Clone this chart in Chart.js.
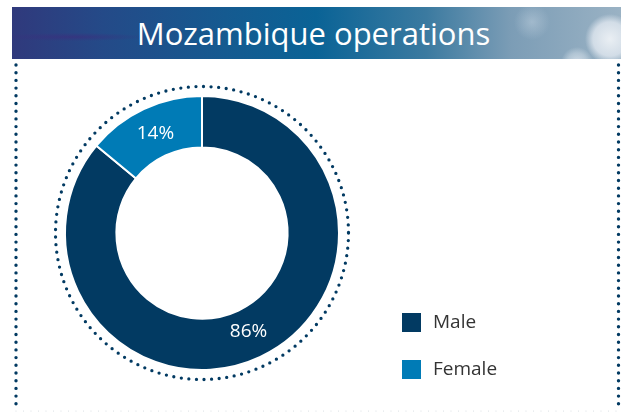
<!DOCTYPE html>
<html>
<head>
<meta charset="utf-8">
<script src="https://cdn.jsdelivr.net/npm/chart.js@4/dist/chart.umd.min.js"></script>
<style>
  html, body { margin: 0; padding: 0; background: #ffffff; }
  body { width: 621px; height: 412px; position: relative; overflow: hidden; font-family: "Open Sans", sans-serif; }
  #banner {
    position: absolute; left: 12px; top: 7px; width: 609px; height: 52px; overflow: hidden;
    background:
      radial-gradient(circle at 598px 32px, rgba(238,242,246,0.95) 0px, rgba(225,232,240,0.8) 17px, rgba(200,215,228,0) 25px),
      radial-gradient(circle at 565px 56px, rgba(225,232,240,0.8) 0px, rgba(210,222,232,0.5) 10px, rgba(200,215,228,0) 16px),
      radial-gradient(circle at 520px 15px, rgba(200,215,228,0.45) 0px, rgba(200,215,228,0) 18px),
      radial-gradient(ellipse at 60px 30px, rgba(60,45,125,0.65) 0px, rgba(60,45,125,0) 75px),
      linear-gradient(90deg, #30397c 0%, #244a88 15%, #155a90 35%, #0a6396 50%, #3b7aa0 68%, #7c9db6 82%, #9ab2c4 100%);
  }
  #title {
    position: absolute; left: 0; top: 7px; width: 621px; height: 52px; line-height: 52px;
    text-align: center; color: #ffffff; font-size: 31px; font-family: "Open Sans", sans-serif; font-weight: 400;
    padding-left: 6px; box-sizing: border-box;
  }
  #c { position: absolute; left: 0; top: 0; }
</style>
</head>
<body>
<div id="banner"></div>
<div id="title">Mozambique operations</div>
<canvas id="c" width="621" height="412"></canvas>
<script>
const titleText = "Mozambique operations";
const categories = ["Male", "Female"];
const values = [86, 14];
const valueLabels = ["86%", "14%"];
const colors = ["#023a62", "#007bb6"];

document.getElementById("title").textContent = titleText;

const decorPlugin = {
  id: "decor",
  beforeDatasetsDraw(chart) {
    const ctx = chart.ctx;
    const meta = chart.getDatasetMeta(0);
    const arc = meta.data[0];
    ctx.save();
    ctx.strokeStyle = "#023a62";
    ctx.lineWidth = 3.4;
    ctx.lineCap = "round";
    ctx.setLineDash([0, 7.7]);
    ctx.beginPath(); ctx.moveTo(16, 65); ctx.lineTo(16, 406); ctx.stroke();
    ctx.beginPath(); ctx.moveTo(618.5, 65); ctx.lineTo(618.5, 406); ctx.stroke();
    ctx.strokeStyle = "#d6dbe0";
    ctx.lineWidth = 1.2;
    ctx.setLineDash([0, 7.5]);
    ctx.beginPath(); ctx.moveTo(16, 411); ctx.lineTo(618, 411); ctx.stroke();
    ctx.strokeStyle = "#023a62";
    ctx.lineWidth = 3.3;
    ctx.setLineDash([0, 7.6]);
    ctx.beginPath();
    ctx.arc(arc.x, arc.y, arc.outerRadius + 9.5, 0, Math.PI * 2);
    ctx.stroke();
    ctx.restore();
  },
  afterDatasetsDraw(chart) {
    const ctx = chart.ctx;
    const meta = chart.getDatasetMeta(0);
    ctx.save();
    ctx.fillStyle = "#ffffff";
    ctx.font = "400 19px 'Open Sans', sans-serif";
    ctx.textAlign = "center";
    ctx.textBaseline = "middle";
    meta.data.forEach((a, i) => {
      const mid = (a.startAngle + a.endAngle) / 2;
      const r = (a.innerRadius + a.outerRadius) / 2 - 2;
      ctx.fillText(valueLabels[i], a.x + Math.cos(mid) * r, a.y + Math.sin(mid) * r);
    });
    ctx.textAlign = "left";
    ctx.textBaseline = "middle";
    ctx.font = "400 19px 'Open Sans', sans-serif";
    categories.forEach((name, i) => {
      const y = 313 + i * 47;
      ctx.fillStyle = colors[i];
      ctx.fillRect(402, y, 19, 19);
      ctx.fillStyle = "#333333";
      ctx.fillText(name, 433, y + 10);
    });
    ctx.restore();
  }
};

new Chart(document.getElementById("c"), {
  type: "doughnut",
  data: {
    labels: categories,
    datasets: [{
      data: values,
      backgroundColor: colors,
      borderColor: "#ffffff",
      borderWidth: 2,
      radius: 137,
      cutout: 85
    }]
  },
  options: {
    responsive: false,
    animation: false,
    events: [],
    layout: { padding: { left: 65, right: 282, top: 96, bottom: 42 } },
    plugins: { legend: { display: false }, tooltip: { enabled: false }, title: { display: false } }
  },
  plugins: [decorPlugin]
});
</script>
</body>
</html>
